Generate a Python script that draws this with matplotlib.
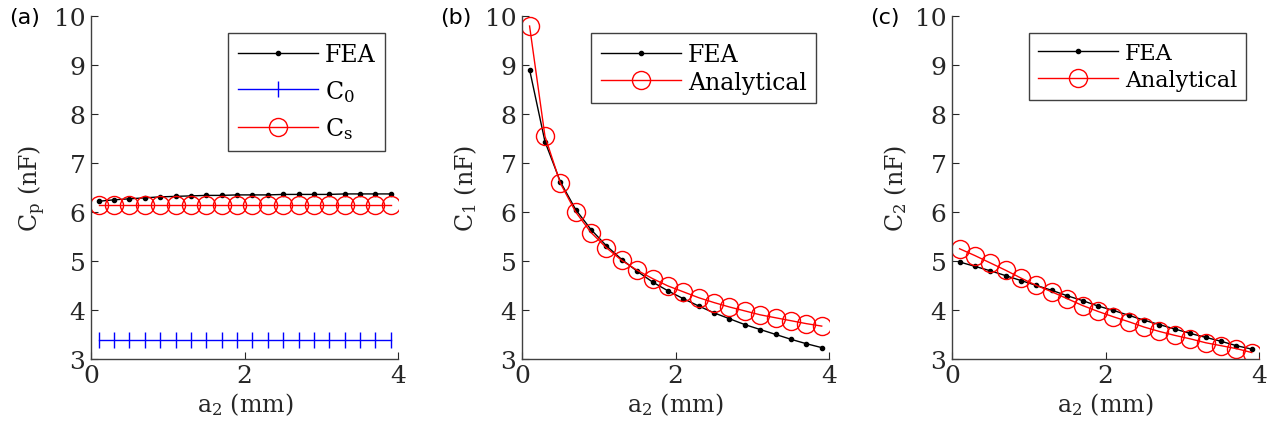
import matplotlib
matplotlib.use('Agg')
import matplotlib.pyplot as plt

plt.rcParams['font.family'] = ['DejaVu Serif']
plt.rcParams['mathtext.fontset'] = 'dejavuserif'

# ─── data ───────────────────────────────────────────────
a2 = [0.1, 0.3, 0.5, 0.7, 0.9, 1.1, 1.3, 1.5, 1.7, 1.9,
      2.1, 2.3, 2.5, 2.7, 2.9, 3.1, 3.3, 3.5, 3.7, 3.9]

cp_fea = [6.22, 6.25, 6.27, 6.29, 6.31, 6.32, 6.33, 6.34, 6.34, 6.35,
          6.35, 6.35, 6.36, 6.36, 6.36, 6.36, 6.37, 6.37, 6.37, 6.37]
c0 = [3.39] * 20
cs = [6.15] * 20

c1_fea = [8.91, 7.44, 6.62, 6.05, 5.64, 5.31, 5.03, 4.79, 4.57, 4.39,
          4.23, 4.08, 3.94, 3.82, 3.70, 3.60, 3.50, 3.40, 3.31, 3.23]
c1_ana = [9.80, 7.55, 6.59, 6.00, 5.58, 5.27, 5.01, 4.81, 4.64, 4.49,
          4.37, 4.25, 4.15, 4.06, 3.98, 3.90, 3.84, 3.78, 3.72, 3.67]

c2_fea = [4.98, 4.89, 4.80, 4.70, 4.60, 4.50, 4.40, 4.29, 4.19, 4.08,
          3.99, 3.89, 3.79, 3.70, 3.61, 3.52, 3.44, 3.36, 3.27, 3.20]
c2_ana = [5.25, 5.11, 4.96, 4.81, 4.65, 4.50, 4.37, 4.23, 4.09, 3.97,
          3.86, 3.76, 3.65, 3.56, 3.48, 3.41, 3.33, 3.27, 3.21, 3.13]

panel_tags = ['(a)', '(b)', '(c)']
ylabels = [r'$\mathrm{C_p}$ (nF)', r'$\mathrm{C_1}$ (nF)', r'$\mathrm{C_2}$ (nF)']

# ─── layout ─────────────────────────────────────────────
fig = plt.figure(figsize=(12.76, 4.31), dpi=100)
lefts = [0.0713, 0.409, 0.746]
axes = [fig.add_axes([l, 0.165, 0.241, 0.795]) for l in lefts]

tick_fs = 18
lab_fs = 17
gray = '#262626'
line_kw = dict(color='black', marker='o', markersize=3, linewidth=1)
ana_kw = dict(color='red', marker='o', markersize=13, markerfacecolor='none',
              markeredgewidth=1, linewidth=1)

ax = axes[0]
ax.plot(a2, cp_fea, label='FEA', **line_kw)
ax.plot(a2, c0, color='blue', marker='|', markersize=12, markeredgewidth=1,
        linewidth=1, label=r'$\mathrm{C_0}$')
ax.plot(a2, cs, label=r'$\mathrm{C_s}$', **ana_kw)

axes[1].plot(a2, c1_fea, label='FEA', **line_kw)
axes[1].plot(a2, c1_ana, label='Analytical', **ana_kw)

axes[2].plot(a2, c2_fea, label='FEA', **line_kw)
axes[2].plot(a2, c2_ana, label='Analytical', **ana_kw)

leg_anchor = [(0.956, 0.95), (0.958, 0.95), (0.956, 0.95)]
leg_space = [0.5, 0.2, 0.2]
leg_fs = [17, 17, 16]
leg_hl = [3.4, 3.4, 3.6]

for i, ax in enumerate(axes):
    ax.set_xlim(0, 4)
    ax.set_ylim(3, 10)
    ax.set_xticks([0, 2, 4])
    ax.set_yticks(range(3, 11))
    ax.spines['top'].set_visible(False)
    ax.spines['right'].set_visible(False)
    for s in ('left', 'bottom'):
        ax.spines[s].set_color('#404040')
        ax.spines[s].set_linewidth(1)
    ax.tick_params(direction='in', length=5, labelsize=tick_fs, colors=gray, pad=4)
    ax.set_xlabel(r'$\mathrm{a_2}$ (mm)', fontsize=lab_fs, color=gray, labelpad=2)
    ax.set_ylabel(ylabels[i], fontsize=lab_fs, color=gray, labelpad=4)
    leg = ax.legend(loc='upper right', fontsize=leg_fs[i], handlelength=leg_hl[i],
                    fancybox=False, framealpha=1, borderpad=0.4,
                    labelspacing=leg_space[i], handletextpad=0.3,
                    borderaxespad=0, bbox_to_anchor=leg_anchor[i])
    leg.get_frame().set_edgecolor('#404040')
    leg.get_frame().set_linewidth(1)
    fig.text(lefts[i] - 0.064, 0.958, panel_tags[i], family='DejaVu Sans',
             fontsize=16, color='black', va='center', ha='left')

fig.savefig('out.png', dpi=100)
